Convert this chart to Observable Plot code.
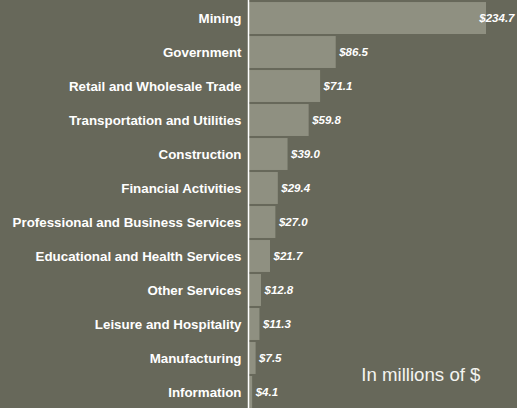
<!DOCTYPE html>
<html>
<head>
<meta charset="utf-8">
<script src="https://cdn.jsdelivr.net/npm/d3@7"></script>
<script src="https://cdn.jsdelivr.net/npm/@observablehq/plot@0.6"></script>
<style>
  html, body { margin: 0; padding: 0; background: #67685a; }
  #chart svg { display: block; }
</style>
</head>
<body>
<div id="chart"></div>
<script>
const industries = [
  "Mining", "Government", "Retail and Wholesale Trade", "Transportation and Utilities",
  "Construction", "Financial Activities", "Professional and Business Services",
  "Educational and Health Services", "Other Services", "Leisure and Hospitality",
  "Manufacturing", "Information"
];
const values = [234.7, 86.5, 71.1, 59.8, 39.0, 29.4, 27.0, 21.7, 12.8, 11.3, 7.5, 4.1];
const unitNote = "In millions of $";

const data = industries.map((name, i) => ({name, value: values[i]}));
const maxVal = d3.max(values);
const fmt = v => "$" + v.toFixed(1);

const plot = Plot.plot({
  width: 517,
  height: 408,
  marginLeft: 248,
  marginRight: 31,
  marginTop: 0,
  marginBottom: 0,
  style: {background: "#67685a", fontFamily: "'Liberation Sans', Arial, sans-serif", fontSize: "12px"},
  x: {domain: [0, maxVal], axis: null},
  y: {domain: industries, padding: 0.06, range: [0, 410], round: false, axis: null},
  marks: [
    Plot.barX(data, {x: "value", y: "name", fill: "#8f9081"}),
    Plot.text(data, {
      y: "name", text: "name", frameAnchor: "left", textAnchor: "end", dx: -7,
      fill: "white", fontSize: 13.33, fontWeight: "bold"
    }),
    Plot.ruleX([0], {stroke: "white", strokeWidth: 1.5}),
    Plot.text(data.filter(d => d.value < maxVal), {
      x: "value", y: "name", text: d => fmt(d.value), textAnchor: "start", dx: 3,
      fill: "white", fontSize: 11.5, fontWeight: "bold", fontStyle: "italic"
    }),
    Plot.text(data.filter(d => d.value === maxVal), {
      y: "name", text: d => fmt(d.value), frameAnchor: "right", textAnchor: "end", dx: 28,
      fill: "white", fontSize: 11.5, fontWeight: "bold", fontStyle: "italic"
    }),
    Plot.text([unitNote], {
      text: d => d, frameAnchor: "bottom-right", textAnchor: "end", lineAnchor: "middle", dx: -6, dy: -33,
      fill: "#f4f4f0", fontSize: 18.67
    })
  ]
});
document.getElementById("chart").appendChild(plot);
</script>
</body>
</html>
